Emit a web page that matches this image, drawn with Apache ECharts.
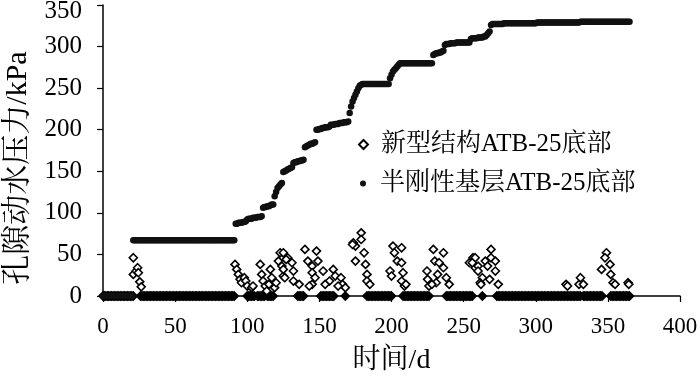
<!DOCTYPE html>
<html>
<head>
<meta charset="utf-8">
<script src="https://cdn.jsdelivr.net/npm/echarts@6/dist/echarts.min.js"></script>
<style>
html,body{margin:0;padding:0;background:#fff;}
#chart{width:700px;height:379px;}
</style>
</head>
<body>
<div id="chart"></div>
<script>
// ---- data ----
const seriesNames = ['新型结构ATB-25底部', '半刚性基层ATB-25底部'];
const xTicks = [0, 50, 100, 150, 200, 250, 300, 350, 400];
const yTicks = [0, 50, 100, 150, 200, 250, 300, 350];

// 半刚性基层: one reading per day, day 0..365
const semiVals = [
  0,0,0,0,0,0,0,0,0,0,0,0,0,0,0,0,0,0,0,0,0,
  67,67,67,67,67,67,67,67,67,67,67,67,67,67,67,67,67,67,67,67,
  67,67,67,67,67,67,67,67,67,67,67,67,67,67,67,67,67,67,67,67,
  67,67,67,67,67,67,67,67,67,67,67,67,67,67,67,67,67,67,67,67,
  67,67,67,67,67,67,67,67,67,67,67,
  87,87,88,88,88,89,89,90,
  92,93,93,93,94,94,94,95,95,95,96,
  106,107,107,108,108,109,110,110,
  120,125,130,132,134,136,
  149,150,151,152,153,154,155,
  160,161,161,162,162,163,163,164,
  179,180,181,182,183,183,184,185,
  200,200,201,201,202,202,203,203,203,204,
  206,206,206,207,207,207,208,208,208,209,209,209,210,
  220,228,234,238,242,246,250,253,254,
  255,255,255,255,255,255,255,255,255,255,255,255,255,255,255,255,255,255,255,
  262,266,270,272,274,276,278,
  280,280,280,280,280,280,280,280,280,280,280,280,280,280,280,280,280,280,280,280,280,280,280,
  290,291,292,292,293,293,294,295,
  302,303,303,303,304,304,304,304,305,305,305,305,305,305,305,305,305,305,
  309,310,310,310,310,311,311,311,311,312,312,
  314,316,318,
  326,327,327,327,327,327,327,327,327,328,328,328,328,328,328,328,328,328,328,328,
  328,328,328,328,328,328,328,328,328,328,328,328,
  329,329,329,329,329,329,329,329,329,329,329,329,329,329,329,329,329,329,329,329,
  329,329,329,329,329,329,329,329,329,329,330,330,330,330,330,330,330,330,330,330,
  330,330,330,330,330,330,330,330,330,330,330,330,330,330,330,330,330,330,330,330,
  330,330,330,330,330
];

// 新型结构: days with zero readings
const newZeroDays = [
  0,1,2,3,4,5,6,7,8,9,10,11,12,13,14,15,16,17,18,19,20,21,
  26,27,28,29,30,31,32,33,34,35,36,37,38,39,40,41,42,43,44,45,46,47,48,49,50,
  51,52,53,54,55,56,57,58,59,60,61,62,63,64,65,66,67,68,69,70,71,72,73,74,75,
  76,77,78,79,80,81,82,83,84,85,86,87,88,89,90,91,
  100,101,102,103,104,105,107,108,109,110,111,112,114,115,116,117,118,
  135,136,137,138,139,
  151,152,153,154,155,156,157,158,159,160,
  168,
  183,184,185,186,187,188,189,190,191,192,193,194,195,196,197,198,199,200,
  208,209,210,211,212,213,214,215,216,217,218,219,220,221,222,223,224,225,226,
  238,239,240,241,242,243,244,245,246,247,248,249,250,251,252,253,254,255,256,
  263,
  273,274,275,276,277,278,279,280,281,282,283,284,285,286,287,288,289,290,291,292,
  293,294,295,296,297,298,299,300,301,302,303,304,305,306,307,308,309,310,311,312,
  313,314,315,316,317,318,319,320,321,322,323,324,325,326,327,328,329,330,331,
  333,334,335,336,337,338,339,340,341,342,343,344,345,346,
  352,353,354,355,356,357,358,359,360,361,362,363,364,365
];

// 新型结构: non-zero readings [day, kPa]
const newPeaks = [
  [21,46],[21,26],[23,30],[24,34],[24.5,28],[25.5,17],[26.5,11],
  [91.5,38],[92.7,32],[93.8,26],[95,20],[96,16],[98,22],[99,18],[100,12],[103,10],[104,12],
  [109,38],[110,26],[111,18],[112.5,12],[113.5,6],[115,14],[116,32],[117,22],[119,10],[120,16],
  [121.6,42],[122.8,52],[124,36],[125,24],[128,46],
  [125,52],[127,44],[131,40],[125,32],[132,30],[126,22],[132,18],[136,14],
  [140,56],[148,54],[142,42],[149,42],[145,36],[152.6,30],[145,28],[147,22],[145,14],[143,12],
  [159.6,32],[161,24],[165,22],[157,18],[166,14],[168,10],[154,14],[163,12],
  [179,76],[179,68],[173.5,64],[175,60],[181,52],[175,42],[182,38],[183,26],[183,18],[173,62],[185,14],
  [201,60],[207,58],[202,52],[204,42],[207,40],[199,30],[200,24],[208,28],[207,18],[209,12],[210,14],
  [229,56],[236,52],[230,42],[233,40],[236,34],[224.6,30],[232,26],[225,20],[238,22],[226,12],[231,16],[228,14],[240,14],
  [256.5,46],[254,40],[258,34],
  [258,46],[256,40],[260,36],[260,30],[265,42],[269,56],[269,46],[272,42],[266.6,36],[272,30],
  [263,22],[268,20],[274,14],[261.5,16],[262,14],
  [321,14],[322,12],[330,14],[331,22],[333,14],
  [349,52],[348,46],[345.6,32],[351.5,38],[352,26],[353.6,16],[355,14],
  [364,16],[364.5,14]
];

// ---- build ----
const semiData = semiVals.map((v, i) => [i, v]);
// dense zero readings overlap into a solid band in the reference
const newData = newZeroDays.map(d => ({value: [d, 0], itemStyle: {color: '#000'}}))
  .concat(newPeaks.map(p => ({value: p})));

const serif = "'Liberation Serif', 'Times New Roman', 'Noto Serif CJK SC', 'Noto Sans CJK SC', serif";
const yTop = yTicks[yTicks.length - 1];

const chart = echarts.init(document.getElementById('chart'), null, {renderer: 'canvas'});
chart.setOption({
  animation: false,
  backgroundColor: '#ffffff',
  grid: {left: 103, right: 20, top: 5, bottom: 83, containLabel: false, outerBoundsMode: 'none'},
  xAxis: {
    type: 'value', min: 0, max: 400, interval: 50,
    name: '时间/d', nameLocation: 'middle', nameGap: 51,
    nameTextStyle: {color: '#000', fontFamily: serif, fontSize: 28},
    axisLine: {show: true, onZero: false, lineStyle: {color: '#000', width: 1.5}},
    axisTick: {show: true, inside: false, length: 6, lineStyle: {color: '#000', width: 1.2}},
    axisLabel: {color: '#000', fontFamily: serif, fontSize: 23, margin: 19,
      formatter: v => xTicks.indexOf(v) >= 0 ? String(v) : ''},
    splitLine: {show: false}
  },
  yAxis: {
    type: 'value', min: 0, max: 350, interval: 50,
    name: '孔隙动水压力/kPa', nameLocation: 'middle', nameGap: 68, nameRotate: 90,
    nameTextStyle: {color: '#000', fontFamily: serif, fontSize: 30, padding: [0, 35, 0, 0]},
    axisLine: {show: true, lineStyle: {color: '#000', width: 1.5}},
    axisTick: {show: true, inside: false, length: 6, lineStyle: {color: '#000', width: 1.2}},
    axisLabel: {color: '#000', fontFamily: serif, fontSize: 25, margin: 21,
      formatter: v => yTicks.indexOf(v) < 0 ? '' : (v === yTop ? '{t|' + v + '}' : String(v)),
      rich: {t: {color: '#000', fontFamily: serif, fontSize: 25, padding: [13, 0, 0, 0]}}},
    splitLine: {show: false}
  },
  legend: [
    {
      data: [seriesNames[0]], orient: 'vertical', left: 358, top: 132,
      itemWidth: 9, itemHeight: 9, padding: 0,
      textStyle: {color: '#000', fontFamily: serif, fontSize: 25, padding: [0, 0, 0, 8]}
    },
    {
      data: [seriesNames[1]], orient: 'vertical', left: 360, top: 171,
      itemWidth: 6, itemHeight: 6, padding: 0,
      textStyle: {color: '#000', fontFamily: serif, fontSize: 25, padding: [0, 0, 0, 9]}
    }
  ],
  series: [
    {
      name: seriesNames[0], type: 'scatter', data: newData,
      symbol: 'diamond', symbolSize: 8,
      itemStyle: {color: '#ffffff', borderColor: '#000', borderWidth: 1.6, opacity: 1},
      z: 2
    },
    {
      name: seriesNames[1], type: 'scatter', data: semiData,
      symbol: 'circle', symbolSize: 6.5,
      itemStyle: {color: '#111', opacity: 1},
      z: 3
    }
  ]
});
</script>
</body>
</html>
